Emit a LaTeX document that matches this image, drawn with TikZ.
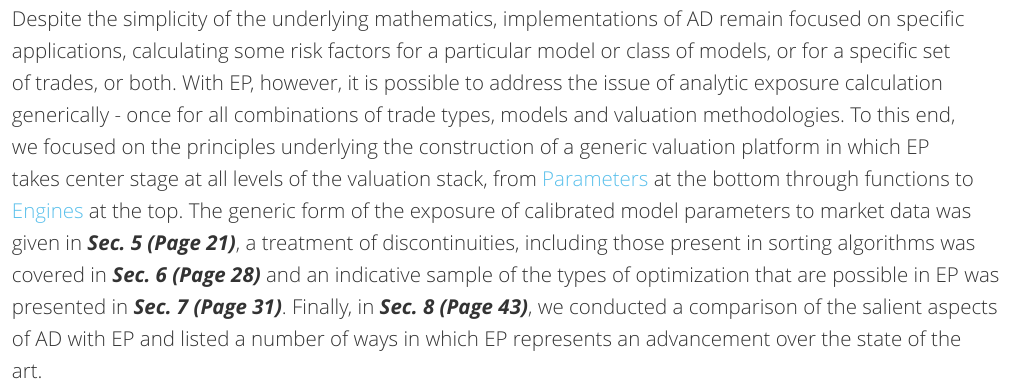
\documentclass[tikz,border=0pt]{standalone}
\usepackage{fontspec}
\setmainfont{Open Sans}[UprightFont={* Light}, BoldItalicFont={* Bold Italic}, BoldFont={* Bold}, ItalicFont={* Light Italic}]
\frenchspacing
\definecolor{bodytext}{HTML}{333333}
\definecolor{linkblue}{HTML}{5BC0EB}
\newcommand{\secref}[1]{\textbf{\textit{#1}}}
\newcommand{\lnk}[1]{\textcolor{linkblue}{#1}}
\tikzset{
  textline/.style={anchor=base west, inner sep=0pt, outer sep=0pt, text=bodytext,
    font=\fontsize{20.5}{32}\selectfont}
}
\begin{document}
\begin{tikzpicture}[x=1pt,y=1pt]
\useasboundingbox (0,0) rectangle (1014,-381);
\node[textline] (l1) at (12,-26) {Despite the simplicity of the underlying mathematics, implementations of AD remain focused on specific};
\node[textline] (l2) at (12,-58) {applications, calculating some risk factors for a particular model or class of models, or for a specific set};
\node[textline] (l3) at (12,-90) {of trades, or both. With EP, however, it is possible to address the issue of analytic exposure calculation};
\node[textline] (l4) at (12,-122) {generically - once for all combinations of trade types, models and valuation methodologies. To this end,};
\node[textline] (l5) at (12,-154) {we focused on the principles underlying the construction of a generic valuation platform in which EP};
\node[textline] (l6) at (12,-186) {takes center stage at all levels of the valuation stack, from \lnk{Parameters} at the bottom through functions to};
\node[textline] (l7) at (12,-218) {\lnk{Engines} at the top. The generic form of the exposure of calibrated model parameters to market data was};
\node[textline] (l8) at (12,-250) {given in \secref{Sec. 5 (Page 21)}, a treatment of discontinuities, including those present in sorting algorithms was};
\node[textline] (l9) at (12,-282) {covered in \secref{Sec. 6 (Page 28)} and an indicative sample of the types of optimization that are possible in EP was};
\node[textline] (l10) at (12,-314) {presented in \secref{Sec. 7 (Page 31)}. Finally, in \secref{Sec. 8 (Page 43)}, we conducted a comparison of the salient aspects};
\node[textline] (l11) at (12,-346) {of AD with EP and listed a number of ways in which EP represents an advancement over the state of the};
\node[textline] (l12) at (12,-378) {art.};
\end{tikzpicture}
\end{document}
